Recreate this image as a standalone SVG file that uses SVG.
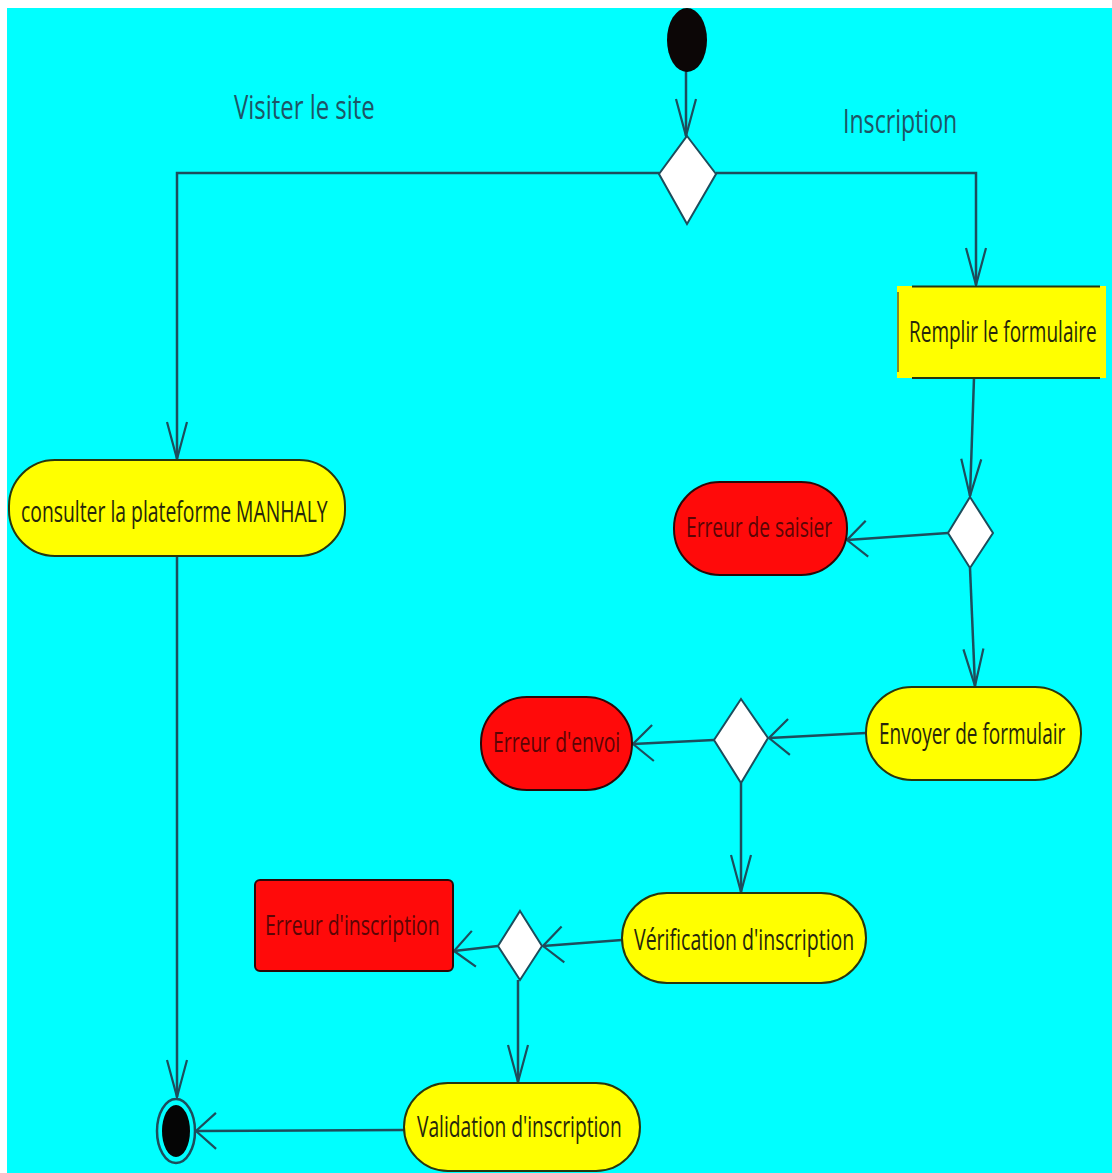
<svg xmlns="http://www.w3.org/2000/svg" width="1112" height="1173" viewBox="0 0 1112 1173">
  <style>
    .flow { fill: none; stroke: #1d4d5c; stroke-width: 2.5; }
    .act { fill: #ffff00; stroke: #27360f; stroke-width: 2; }
    .err { fill: #ff0a0a; stroke: #2a0808; stroke-width: 2; }
    .dec { fill: #ffffff; stroke: #1d4d5c; stroke-width: 2; }
    .txt { font-family: "Open Sans", "Liberation Sans", sans-serif; font-size: 29px; fill: #26260c; }
    .etxt { font-family: "Open Sans", "Liberation Sans", sans-serif; font-size: 27px; fill: #5a0505; }
    .lbl { font-family: "Open Sans", "Liberation Sans", sans-serif; font-size: 33px; fill: #1e5566; }
  </style>
  <defs>
    <!-- open arrowheads: long/narrow on vertical flows, short/wide on horizontal ones -->
    <marker id="arrowV" markerUnits="userSpaceOnUse" viewBox="-40 -14 42 28" refX="0" refY="0" markerWidth="42" markerHeight="28" orient="auto" overflow="visible">
      <path d="M-37,-10 L0,0 L-37,10" fill="none" stroke="#1d4d5c" stroke-width="2.2"/>
    </marker>
    <marker id="arrowH" markerUnits="userSpaceOnUse" viewBox="-24 -22 26 44" refX="0" refY="0" markerWidth="26" markerHeight="44" orient="auto" overflow="visible">
      <path d="M-20,-18 L0,0 L-20,18" fill="none" stroke="#1d4d5c" stroke-width="2.2"/>
    </marker>
  </defs>

  <!-- canvas -->
  <rect x="0" y="0" width="1112" height="1173" fill="#ffffff"/>
  <rect x="7" y="8" width="1105" height="1165" fill="#00ffff"/>

  <!-- branch labels (all text is drawn horizontally condensed) -->
  <text class="lbl" transform="translate(234,119) scale(0.68,1)" textLength="207" lengthAdjust="spacingAndGlyphs">Visiter le site</text>
  <text class="lbl" transform="translate(843,133) scale(0.68,1)" textLength="168" lengthAdjust="spacingAndGlyphs">Inscription</text>

  <!-- connectors -->
  <g id="connectors">
    <line class="flow" x1="686" y1="68" x2="686" y2="136" marker-end="url(#arrowV)"/>
    <polyline class="flow" points="659,173 177,173 177,459" marker-end="url(#arrowV)"/>
    <polyline class="flow" points="716,173 976,173 976,285" marker-end="url(#arrowV)"/>
    <line class="flow" x1="177" y1="556" x2="177" y2="1097" marker-end="url(#arrowV)"/>
    <line class="flow" x1="974" y1="378" x2="970" y2="496" marker-end="url(#arrowV)"/>
    <line class="flow" x1="948" y1="533" x2="847" y2="540" marker-end="url(#arrowH)"/>
    <line class="flow" x1="970" y1="568" x2="975" y2="686" marker-end="url(#arrowV)"/>
    <line class="flow" x1="866" y1="733" x2="769" y2="738" marker-end="url(#arrowH)"/>
    <line class="flow" x1="714" y1="740" x2="633" y2="744" marker-end="url(#arrowH)"/>
    <line class="flow" x1="741" y1="783" x2="741" y2="892" marker-end="url(#arrowV)"/>
    <line class="flow" x1="622" y1="940" x2="543" y2="946" marker-end="url(#arrowH)"/>
    <line class="flow" x1="498" y1="946" x2="454" y2="951" marker-end="url(#arrowH)"/>
    <line class="flow" x1="518" y1="980" x2="518" y2="1082" marker-end="url(#arrowV)"/>
    <line class="flow" x1="404" y1="1130" x2="196" y2="1131" marker-end="url(#arrowH)"/>
  </g>

  <!-- start -->
  <g id="start">
    <ellipse cx="687" cy="40" rx="20" ry="32" fill="#0c0606"/>
  </g>

  <!-- decisions -->
  <g id="decision-branch">
    <polygon class="dec" points="687,136 716,174 687,224 659,174"/>
  </g>
  <g id="decision-saisie">
    <polygon class="dec" points="970,497 993,533 970,568 948,533"/>
  </g>
  <g id="decision-envoi">
    <polygon class="dec" points="741,699 768,738 741,783 714,740"/>
  </g>
  <g id="decision-inscription">
    <polygon class="dec" points="520,911 542,946 520,980 498,946"/>
  </g>

  <!-- activities -->
  <g id="consulter">
    <rect class="act" x="9" y="460" width="336" height="96" rx="46" ry="46"/>
    <text class="txt" transform="translate(21,522) scale(0.68,1)" textLength="451" lengthAdjust="spacingAndGlyphs">consulter la plateforme MANHALY</text>
  </g>
  <g id="remplir">
    <rect x="897" y="286" width="209" height="92" fill="#ffff00"/>
    <line x1="912" y1="286.5" x2="1100" y2="286.5" stroke="#27360f" stroke-width="2"/>
    <line x1="912" y1="378" x2="1100" y2="378" stroke="#27360f" stroke-width="2"/>
    <line x1="898" y1="292" x2="898" y2="372" stroke="#8a8a20" stroke-width="2"/>
    <text class="txt" transform="translate(909,342) scale(0.68,1)" textLength="276" lengthAdjust="spacingAndGlyphs">Remplir le formulaire</text>
  </g>
  <g id="erreur-saisie">
    <rect class="err" x="674" y="482" width="173" height="93" rx="46" ry="46"/>
    <text class="etxt" transform="translate(686,537) scale(0.68,1)" textLength="215" lengthAdjust="spacingAndGlyphs">Erreur de saisier</text>
  </g>
  <g id="envoyer">
    <rect class="act" x="866" y="687" width="215" height="93" rx="46" ry="46"/>
    <text class="txt" transform="translate(879,744) scale(0.68,1)" textLength="274" lengthAdjust="spacingAndGlyphs">Envoyer de formulair</text>
  </g>
  <g id="erreur-envoi">
    <rect class="err" x="481" y="697" width="151" height="93" rx="46" ry="46"/>
    <text class="etxt" transform="translate(493,752) scale(0.68,1)" textLength="187" lengthAdjust="spacingAndGlyphs">Erreur d'envoi</text>
  </g>
  <g id="verification">
    <rect class="act" x="622" y="893" width="244" height="90" rx="45" ry="45"/>
    <text class="txt" transform="translate(634,950) scale(0.68,1)" textLength="324" lengthAdjust="spacingAndGlyphs">Vérification d'inscription</text>
  </g>
  <g id="erreur-inscription">
    <rect class="err" x="255" y="880" width="198" height="91" rx="5" ry="5"/>
    <text class="etxt" transform="translate(265,935) scale(0.68,1)" textLength="257" lengthAdjust="spacingAndGlyphs">Erreur d'inscription</text>
  </g>
  <g id="validation">
    <rect class="act" x="404" y="1083" width="236" height="88" rx="44" ry="44"/>
    <text class="txt" transform="translate(417,1137) scale(0.68,1)" textLength="301" lengthAdjust="spacingAndGlyphs">Validation d'inscription</text>
  </g>

  <!-- end -->
  <g id="end">
    <ellipse cx="176" cy="1131" rx="19" ry="32" fill="#00ffff" stroke="#1d4d5c" stroke-width="2.5"/>
    <ellipse cx="176" cy="1131" rx="14" ry="26" fill="#050505"/>
  </g>
</svg>
